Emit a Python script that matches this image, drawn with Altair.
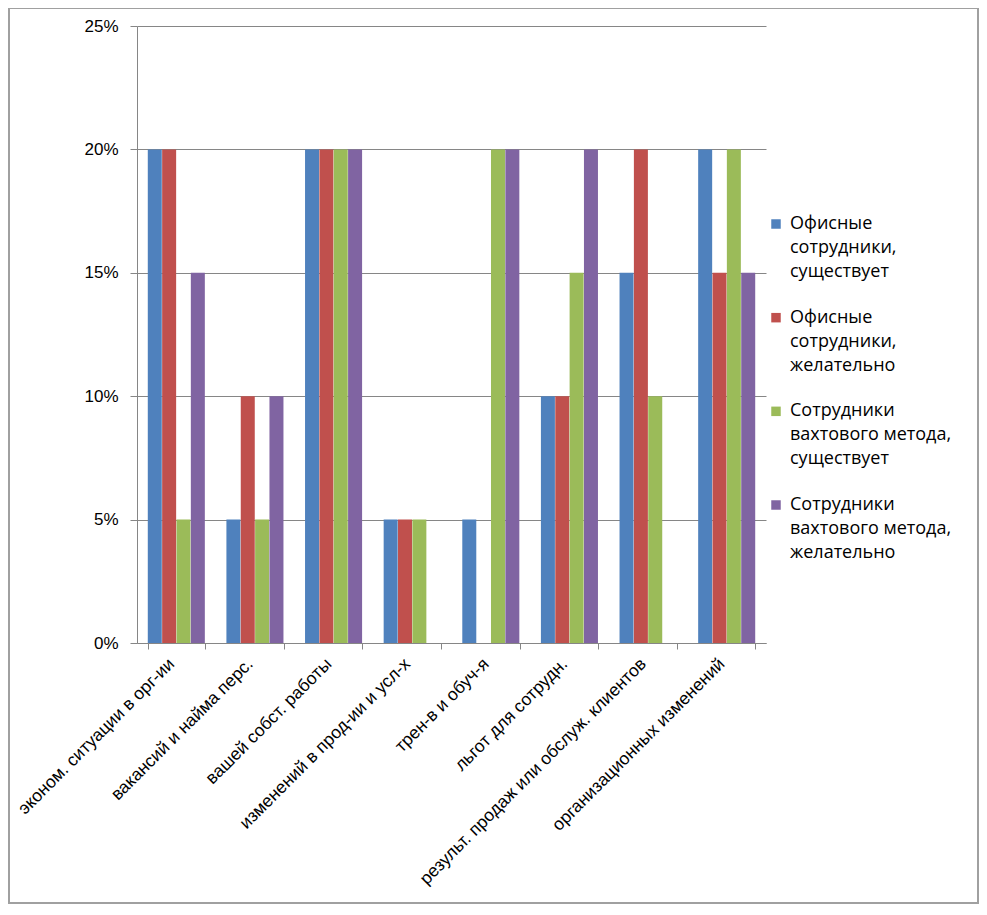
import altair as alt
import pandas as pd

categories = [
    "эконом. ситуации в орг-ии",
    "вакансий и найма перс.",
    "вашей собст. работы",
    "изменений в прод-ии и усл-х",
    "трен-в и обуч-я",
    "льгот для сотрудн.",
    "результ. продаж или обслуж. клиентов",
    "организационных изменений",
]
series = [
    "Офисные сотрудники, существует",
    "Офисные сотрудники, желательно",
    "Сотрудники вахтового метода, существует",
    "Сотрудники вахтового метода, желательно",
]
series_lines = [
    ["Офисные", "сотрудники,", "существует"],
    ["Офисные", "сотрудники,", "желательно"],
    ["Сотрудники", "вахтового метода,", "существует"],
    ["Сотрудники", "вахтового метода,", "желательно"],
]
office_exists = [20, 5, 20, 5, 5, 10, 15, 20]
office_wanted = [20, 10, 20, 5, 0, 10, 20, 15]
shift_exists = [5, 5, 20, 5, 20, 15, 10, 20]
shift_wanted = [15, 10, 20, 0, 20, 20, 0, 15]
colors = ["#4F81BD", "#C0504D", "#9BBB59", "#8064A2"]
y_ticks = [0, 5, 10, 15, 20, 25]

rows = []
for s, vals in zip(series, [office_exists, office_wanted, shift_exists, shift_wanted]):
    for c, v in zip(categories, vals):
        rows.append({"cat": c, "series": s, "value": v})
df = pd.DataFrame(rows)
legend_df = pd.DataFrame({"series": series, "lines": series_lines})

color_scale = alt.Scale(domain=series, range=colors)

bars = alt.Chart(df).mark_bar(size=14).encode(
    x=alt.X("cat:N", sort=categories, title=None,
            scale=alt.Scale(paddingInner=0.27, paddingOuter=0.135),
            axis=alt.Axis(labelAngle=-45, labelFontSize=17.5, labelFont="Liberation Sans",
                          labelColor="#000", tickBand="extent", tickColor="#868686",
                          domainColor="#868686", tickSize=6, labelPadding=12,
                          labelAlign="right", labelBaseline="middle", labelOffset=-5,
                          labelLimit=400)),
    xOffset=alt.XOffset("series:N", sort=series),
    y=alt.Y("value:Q", title=None,
            scale=alt.Scale(domain=[0, 25]),
            axis=alt.Axis(values=y_ticks, labelExpr="datum.value + '%'",
                          labelFontSize=17, labelFont="Liberation Sans", labelColor="#000",
                          gridColor="#868686", domainColor="#868686", tickColor="#868686",
                          tickSize=7, labelPadding=12)),
    color=alt.Color("series:N", sort=series, scale=color_scale, legend=None),
)

legend_y = alt.Y("series:N", sort=series, axis=None,
                 scale=alt.Scale(range=[198, 479], padding=0))

legend_sq = alt.Chart(legend_df).mark_square(size=90, opacity=1).encode(
    x=alt.value(639),
    y=legend_y,
    color=alt.Color("series:N", sort=series, scale=color_scale, legend=None),
)

legend_txt = alt.Chart(legend_df).mark_text(
    align="left", baseline="top", dy=-9, lineHeight=24,
    font="Open Sans", fontSize=18, color="#000"
).encode(
    x=alt.value(653),
    y=legend_y,
    text="lines",
)

frame = alt.Chart(pd.DataFrame({"a": [0]})).mark_rect(
    filled=False, stroke="#A0A0A0", strokeWidth=2
).encode(
    x=alt.value(-128), x2=alt.value(841), y=alt.value(-18), y2=alt.value(877)
)

chart = alt.layer(bars, frame, legend_sq, legend_txt).resolve_scale(
    y="independent"
).properties(
    width=629, height=617,
    autosize=alt.AutoSizeParams(type="none"),
    padding={"left": 129, "top": 18, "right": 213, "bottom": 262},
).configure_view(stroke=None)

chart.save("out.html", embed_options={"renderer": "svg", "actions": False})
